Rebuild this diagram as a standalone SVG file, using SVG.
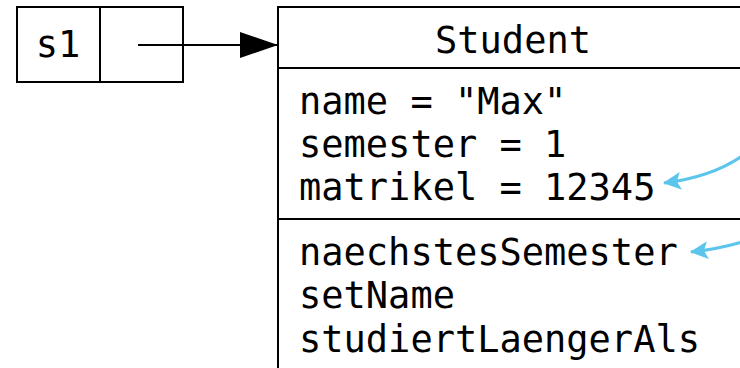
<svg xmlns="http://www.w3.org/2000/svg" width="740" height="368" viewBox="0 0 740 368">
<defs>
<style>
.t{font-family:"DejaVu Sans Mono",monospace;font-size:37px;fill:#000}
.b{fill:#fff;stroke:#000;stroke-width:2}
.l{stroke:#000;stroke-width:2;fill:none}
.c{stroke:#5bc5ec;stroke-width:3;fill:none}
</style>
<marker id="ah" markerWidth="38" markerHeight="26" refX="38" refY="13" orient="auto" markerUnits="userSpaceOnUse"><path d="M0,0 L38,13 L0,26 Z" fill="#000"/></marker>
<marker id="bh" markerWidth="18" markerHeight="18" refX="17" refY="9" orient="auto" markerUnits="userSpaceOnUse"><path d="M0,0 L18,9 L0,18 L4,9 Z" fill="#5bc5ec"/></marker>
</defs>
<g id="s1">
<rect class="b" x="17" y="7" width="166" height="75"/>
<line class="l" x1="100" y1="7" x2="100" y2="82"/>
<text class="t" x="58" y="57" text-anchor="middle">s1</text>
</g>
<g id="student">
<rect class="b" x="278" y="7" width="470" height="380"/>
<line class="l" x1="278" y1="68" x2="748" y2="68"/>
<line class="l" x1="278" y1="219" x2="748" y2="219"/>
<text class="t" x="513" y="53" text-anchor="middle">Student</text>
<text class="t" x="299" y="114">name = "Max"</text>
<text class="t" x="299" y="157">semester = 1</text>
<text class="t" x="299" y="200">matrikel = 12345</text>
<text class="t" x="299" y="265">naechstesSemester</text>
<text class="t" x="299" y="308">setName</text>
<text class="t" x="299" y="352">studiertLaengerAls</text>
</g>
<g id="connectors">
<line class="l" x1="138" y1="45" x2="278" y2="45" marker-end="url(#ah)"/>
<path class="c" d="M742,156 Q712,177 664,183" marker-end="url(#bh)"/>
<path class="c" d="M742,242 Q718,249 691,252" marker-end="url(#bh)"/>
</g>
</svg>
